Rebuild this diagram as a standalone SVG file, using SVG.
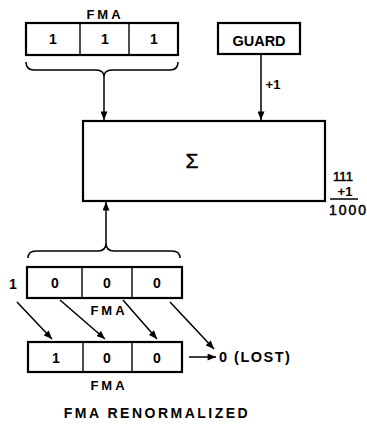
<svg xmlns="http://www.w3.org/2000/svg" width="367" height="428" viewBox="0 0 367 428">
<defs>
<style>
.box{fill:#fff;stroke:#000;stroke-width:2.2}
.div{stroke:#000;stroke-width:1.4}
.ln{fill:none;stroke:#000;stroke-width:1.5}
.t{font-family:"Liberation Sans",Arial,sans-serif;font-weight:bold;fill:#000;text-anchor:middle}
.d{font-size:14px}
.lbl{font-size:13px;letter-spacing:3px}
.m{font-weight:normal;stroke:#000;stroke-width:0.5}
</style>
<marker id="ah" viewBox="0 0 12 10" refX="12" refY="5" markerWidth="9" markerHeight="7" markerUnits="userSpaceOnUse" orient="auto">
<path d="M0,0 L12,5 L0,10 z" fill="#000"/>
</marker>
</defs>

<g id="fma-top">
<text class="t lbl" x="105" y="19">FMA</text>
<rect class="box" x="26" y="23" width="152" height="32"/>
<line class="div" x1="80" y1="23" x2="80" y2="55"/>
<line class="div" x1="129" y1="23" x2="129" y2="55"/>
<text class="t d" x="53" y="44">1</text>
<text class="t d" x="105" y="44">1</text>
<text class="t d" x="154" y="44">1</text>
<path class="ln" d="M26,62 Q26,70 34,70 L96,70 Q104,70 104,77 Q104,70 112,70 L170,70 Q178,70 178,62"/>
</g>

<g id="guard">
<rect class="box" x="218" y="23" width="82" height="31"/>
<text class="t" x="259" y="46" font-size="14.5">GUARD</text>
</g>

<g id="sum">
<rect class="box" x="83" y="121" width="242" height="80"/>
<text class="t m" x="192" y="168" font-size="21">Σ</text>
</g>

<g id="calc">
<text class="t m" x="343" y="181" font-size="13">111</text>
<text class="t" x="345" y="196" font-size="13">+1</text>
<line class="ln" x1="330" y1="199" x2="358" y2="199"/>
<text class="t m" x="329" y="215" font-size="14" style="text-anchor:start;letter-spacing:2px">1000</text>
</g>

<g id="fma-mid">
<path class="ln" d="M28,258 Q28,251 36,251 L98,251 Q106,251 106,243 Q106,251 114,251 L172,251 Q180,251 180,258"/>
<text class="t d" x="13" y="289">1</text>
<rect class="box" x="27" y="267" width="155" height="31"/>
<line class="div" x1="82" y1="267" x2="82" y2="298"/>
<line class="div" x1="132" y1="267" x2="132" y2="298"/>
<text class="t d" x="55" y="288">0</text>
<text class="t d" x="107" y="288">0</text>
<text class="t d" x="157" y="288">0</text>
<text class="t lbl" x="109" y="315">FMA</text>
</g>

<g id="fma-bottom">
<rect class="box" x="28" y="342" width="154" height="30"/>
<line class="div" x1="83" y1="342" x2="83" y2="372"/>
<line class="div" x1="132" y1="342" x2="132" y2="372"/>
<text class="t d" x="56" y="363">1</text>
<text class="t d" x="107" y="363">0</text>
<text class="t d" x="157" y="363">0</text>
<text class="t lbl" x="109" y="390">FMA</text>
</g>

<g id="lost">
<text class="t" x="219" y="362" font-size="14.5" style="text-anchor:start;letter-spacing:1.5px">0 (LOST)</text>
</g>

<g id="title">
<text class="t" x="157" y="418" font-size="14" style="letter-spacing:2.5px">FMA RENORMALIZED</text>
</g>

<g id="connectors">
<line class="ln" x1="104" y1="77" x2="104" y2="120" marker-end="url(#ah)"/>
<line class="ln" x1="261" y1="54" x2="261" y2="120" marker-end="url(#ah)"/>
<text class="t" x="273" y="89" font-size="13">+1</text>
<line class="ln" x1="106" y1="243" x2="106" y2="202" marker-end="url(#ah)"/>
<line class="ln" x1="17" y1="302" x2="52" y2="339" marker-end="url(#ah)"/>
<line class="ln" x1="60" y1="300" x2="105" y2="339" marker-end="url(#ah)"/>
<line class="ln" x1="123" y1="300" x2="157" y2="339" marker-end="url(#ah)"/>
<line class="ln" x1="170" y1="302" x2="214" y2="349" marker-end="url(#ah)"/>
<line class="ln" x1="189" y1="357" x2="216" y2="357" marker-end="url(#ah)"/>
</g>
</svg>
